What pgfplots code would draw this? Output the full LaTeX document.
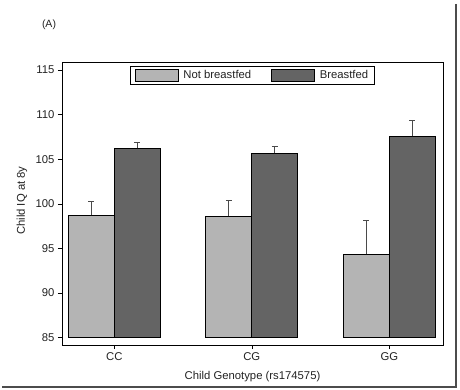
\documentclass[border=0pt]{standalone}
\usepackage{pgfplots}
\pgfplotsset{compat=1.18}
\usepackage{fontspec}
\setmainfont{Liberation Sans}
\definecolor{lightbar}{HTML}{B4B4B4}
\definecolor{darkbar}{HTML}{646464}
\definecolor{errc}{HTML}{4A4A4A}
\definecolor{txt}{HTML}{222222}
\begin{document}
\begin{tikzpicture}[x=1pt,y=1pt]
\begin{axis}[
  name=ax,
  scale only axis, width=381pt, height=283pt,
  font=\fontsize{11.3}{13}\selectfont,
  /pgf/number format/assume math mode=true,
  xmin=-0.38, xmax=2.39,
  ymin=84.18, ymax=115.9,
  y coord trafo/.code={\pgfmathparse{#1-85}},
  y coord inv trafo/.code={\pgfmathparse{#1+85}},
  ytick={85,90,95,100,105,110,115},
  xtick={0,1,2}, xticklabels={CC,CG,GG},
  tick align=outside, xtick pos=left, ytick pos=left,
  major tick length=4pt,
  tick style={black, line width=0.6pt},
  axis line style={black, line width=0.7pt},
  ticklabel style={text=txt},
  xlabel={Child Genotype (rs174575)},
  ylabel={Child IQ at 8y},
  xlabel style={at={(axis description cs:0.5,-0.11)}, anchor=center, text=txt},
  ylabel style={at={(axis description cs:-0.105,0.51)}, anchor=center, text=txt},
  ybar, bar width=46pt,
  legend columns=2,
  legend style={at={(0.5,1)}, anchor=north, yshift=-4pt, draw=black, line width=0.6pt,
    font=\fontsize{11.3}{13}\selectfont, text=txt, inner xsep=4pt, inner ysep=2pt,
    /tikz/every even column/.append style={column sep=18pt}},
  legend image code/.code={\draw[#1, line width=0.6pt] (0pt,-6pt) rectangle (43pt,6pt);},
]
\addplot[fill=lightbar, draw=black, line width=0.7pt, bar shift=-23pt,
  error bars/.cd, y dir=plus, y explicit, error mark=|,
  error bar style={line width=1.3pt, color=errc},
  error mark options={line width=1.3pt, mark size=3pt, color=errc}]
  coordinates {(0,98.7) +- (0,1.6) (1,98.6) +- (0,1.75) (2,94.35) +- (0,3.75)};
\addplot[fill=darkbar, draw=black, line width=0.7pt, bar shift=23pt,
  error bars/.cd, y dir=plus, y explicit, error mark=|,
  error bar style={line width=1.3pt, color=errc},
  error mark options={line width=1.3pt, mark size=3pt, color=errc}]
  coordinates {(0,106.25) +- (0,0.65) (1,105.65) +- (0,0.8) (2,107.55) +- (0,1.8)};
\legend{\hspace{3pt}Not breastfed, \hspace{3pt}Breastfed}
\coordinate (O) at (rel axis cs:0,0);
\end{axis}
\begin{scope}[shift={(O)}]
\draw[line width=2.5pt, gray!60!black] (394,341) -- (394,-42) -- (-60,-42);
\node[font=\fontsize{10.5}{12}\selectfont, text=txt] at (-13,320) {(A)};
\pgfresetboundingbox
\path[use as bounding box] (-62,-44) rectangle (398,345);
\end{scope}
\end{tikzpicture}
\end{document}
